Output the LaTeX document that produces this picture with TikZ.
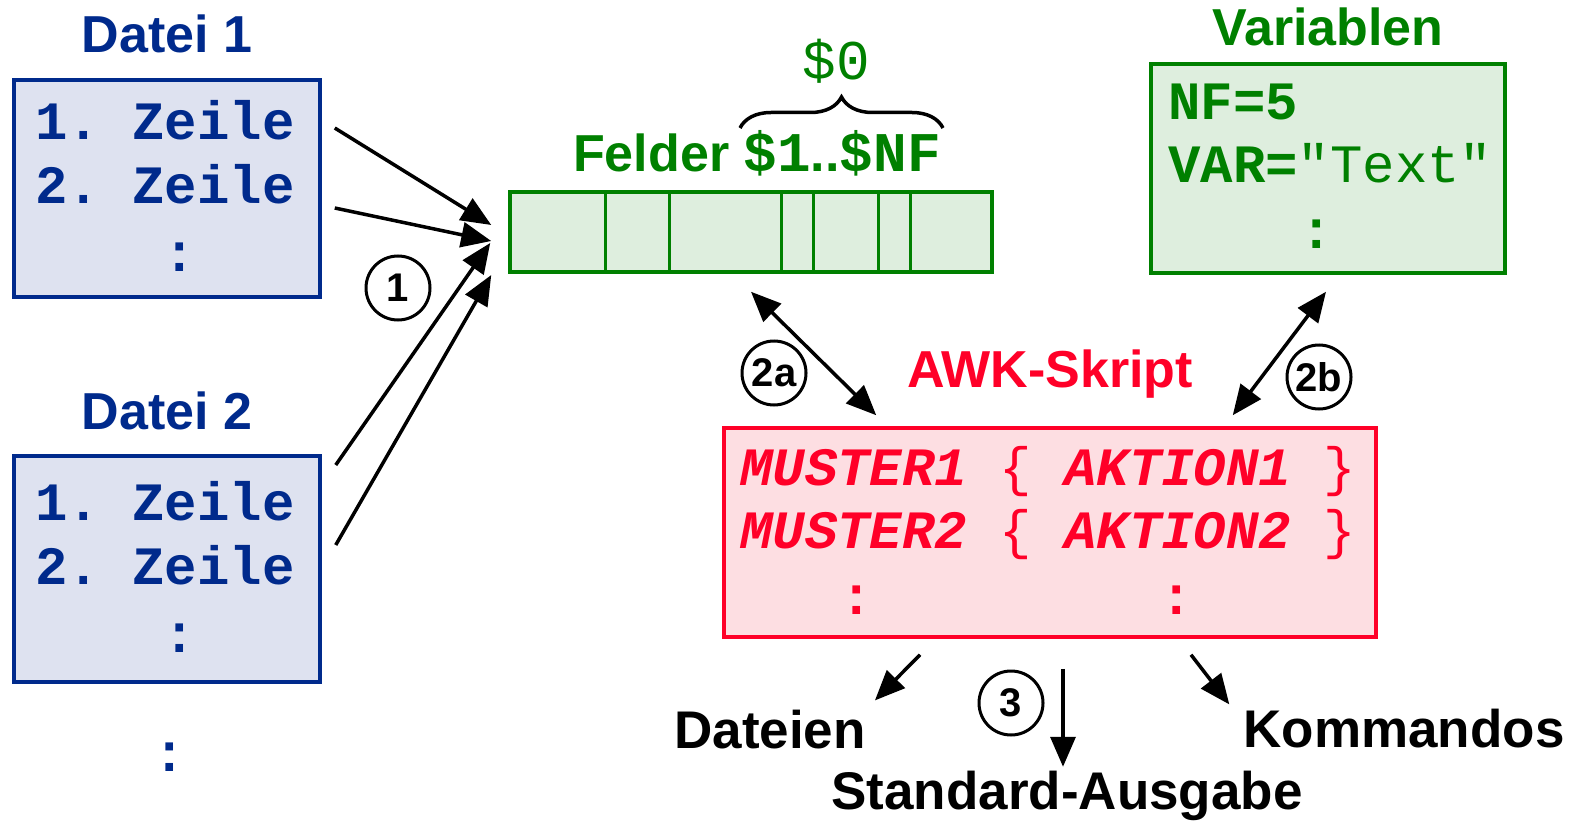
\documentclass[tikz,border=0pt]{standalone}
\usepackage{fontspec}
\setmainfont{Liberation Sans}
\setmonofont{Liberation Mono}
\usepackage{tikz}
\usetikzlibrary{arrows.meta,decorations.pathreplacing,positioning}

\definecolor{dateiblau}{RGB}{0,42,140}
\definecolor{dateifill}{RGB}{222,226,240}
\definecolor{feldgruen}{RGB}{0,128,0}
\definecolor{feldfill}{RGB}{222,238,222}
\definecolor{awkrot}{RGB}{255,0,40}
\definecolor{awkfill}{RGB}{253,222,226}

\tikzset{
  kasten/.style={draw, line width=3.5pt, inner sep=0pt},
  datei/.style={kasten, draw=dateiblau, fill=dateifill, minimum width=306pt},
  titel/.style={font=\fontsize{52}{60}\selectfont\bfseries, inner sep=0pt},
  code/.style={font=\fontsize{54}{64}\selectfont\ttfamily\bfseries, inner sep=0pt},
  awkcode/.style={font=\fontsize{54}{60}\selectfont\ttfamily\bfseries\itshape, inner sep=0pt, text=awkrot},
  ausgabe/.style={font=\fontsize{53}{60}\selectfont\bfseries, inner sep=0pt, anchor=base},
  nummer/.style={circle, draw, line width=3pt, minimum size=64pt, inner sep=0pt,
    font=\fontsize{40}{40}\selectfont\bfseries},
  pfeil/.style={-{Triangle[length=30pt,width=25pt]}, line width=3.5pt},
  doppelpfeil/.style={{Triangle[length=30pt,width=25pt]}-{Triangle[length=30pt,width=25pt]}, line width=3.5pt},
  klammer/.style={decorate, decoration={brace, amplitude=31pt}, line width=3.5pt}
}

\begin{document}
\begin{tikzpicture}[x=1pt,y=-1pt]
  \useasboundingbox (0,0) rectangle (1576,821);

  % Eingabedateien
  \node[datei, minimum height=217pt] (d1) at (167,188.5) {};
  \node[titel, text=dateiblau, above=25pt of d1] (d1titel) {Datei 1};
  \node[code, text=dateiblau, anchor=base west] (d1z1) at (35,140) {1. Zeile};
  \node[code, text=dateiblau, anchor=base west] (d1z2) at (35,204) {2. Zeile};
  \node[code, text=dateiblau] (d1pkt) at (180,257) {:};

  \node[datei, minimum height=226pt] (d2) at (167,569) {};
  \node[titel, text=dateiblau, above=24pt of d2] (d2titel) {Datei 2};
  \node[code, text=dateiblau, anchor=base west] (d2z1) at (35,520) {1. Zeile};
  \node[code, text=dateiblau, anchor=base west] (d2z2) at (35,584) {2. Zeile};
  \node[code, text=dateiblau] (d2pkt) at (180,638) {:};
  \node[code, text=dateiblau] (dpkt) at (170,757) {:};

  % Felder
  \node[kasten, draw=feldgruen, fill=feldfill, minimum width=482pt, minimum height=80pt] (felder) at (751,232) {};
  \foreach \d in {97,161,273,305,370,402}
    \draw[feldgruen, line width=3.5pt] ([xshift=\d pt]felder.north west) -- ([xshift=\d pt]felder.south west);
  \node[titel, text=feldgruen, anchor=base west] (flbl) at (573,172)
    {Felder {\fontsize{56}{60}\selectfont\texttt{\$1}}..{\fontsize{56}{60}\selectfont\texttt{\$NF}}};
  \draw[klammer] (740,128) -- (943,128);
  \node[code, text=feldgruen, font=\fontsize{56}{64}\selectfont\ttfamily] (null) at (836,61) {\$0};

  % Variablen
  \node[kasten, draw=feldgruen, fill=feldfill, minimum width=354pt, minimum height=209pt] (vars) at (1328,168.5) {};
  \node[titel, text=feldgruen, above=16pt of vars] (vtitel) {Variablen};
  \node[code, text=feldgruen, anchor=base west] (v1) at (1168,120) {NF=5};
  \node[code, text=feldgruen, anchor=base west] (v2) at (1168,183) {VAR=\mdseries"Text"};
  \node[code, text=feldgruen] (vpkt) at (1317,234) {:};

  % AWK-Skript
  \node[kasten, draw=awkrot, fill=awkfill, minimum width=652pt, minimum height=209pt] (awk) at (1050,532.5) {};
  \node[titel, text=awkrot, above=28pt of awk] (atitel) {AWK-Skript};
  \node[awkcode, anchor=base west] (m1) at (740,485) {MUSTER1 {\upshape\mdseries\{} AKTION1 {\upshape\mdseries\}}};
  \node[awkcode, anchor=base west] (m2) at (740,548) {MUSTER2 {\upshape\mdseries\{} AKTION2 {\upshape\mdseries\}}};
  \node[code, text=awkrot] (mpkt) at (857,600) {:};
  \node[code, text=awkrot] (apkt) at (1177,600) {:};

  % Ausgaben
  \node[ausgabe] (dat) at (770,748) {Dateien};
  \node[ausgabe] (std) at (1067,809) {Standard-Ausgabe};
  \node[ausgabe] (kom) at (1404,747) {Kommandos};

  % Nummern
  \node[nummer] (n1) at (398,288) {1};
  \node[nummer] (n2a) at (774,373) {2a};
  \node[nummer] (n2b) at (1319,377) {2b};
  \node[nummer] (n3) at (1011,703) {3};

  % Pfeile
  \draw[pfeil] ([xshift=13pt,yshift=60.5pt]d1.east) -- ([xshift=-17pt,yshift=7pt]felder.west);
  \draw[pfeil] ([xshift=13pt,yshift=-19.5pt]d1.east) -- ([xshift=-17pt,yshift=-9pt]felder.west);
  \draw[pfeil] ([xshift=14pt,yshift=104pt]d2.east) -- ([xshift=-18pt,yshift=-11pt]felder.west);
  \draw[pfeil] ([xshift=14pt,yshift=24pt]d2.east) -- ([xshift=-17pt,yshift=-43pt]felder.west);

  \draw[doppelpfeil] ([yshift=-18pt]felder.south) -- ([xshift=154pt,yshift=11pt]awk.north west);
  \draw[doppelpfeil] ([xshift=-2pt,yshift=-17pt]vars.south) -- ([xshift=-145pt,yshift=11pt]awk.north east);

  \draw[pfeil] ([xshift=-130pt,yshift=-16pt]awk.south) -- ([xshift=9pt,yshift=9pt]dat.north east);
  \draw[pfeil] ([xshift=13pt,yshift=-30pt]awk.south) -- ++(0,98);
  \draw[pfeil] ([xshift=141pt,yshift=-16pt]awk.south) -- ([xshift=-14pt,yshift=4pt]kom.north west);
\end{tikzpicture}
\end{document}
